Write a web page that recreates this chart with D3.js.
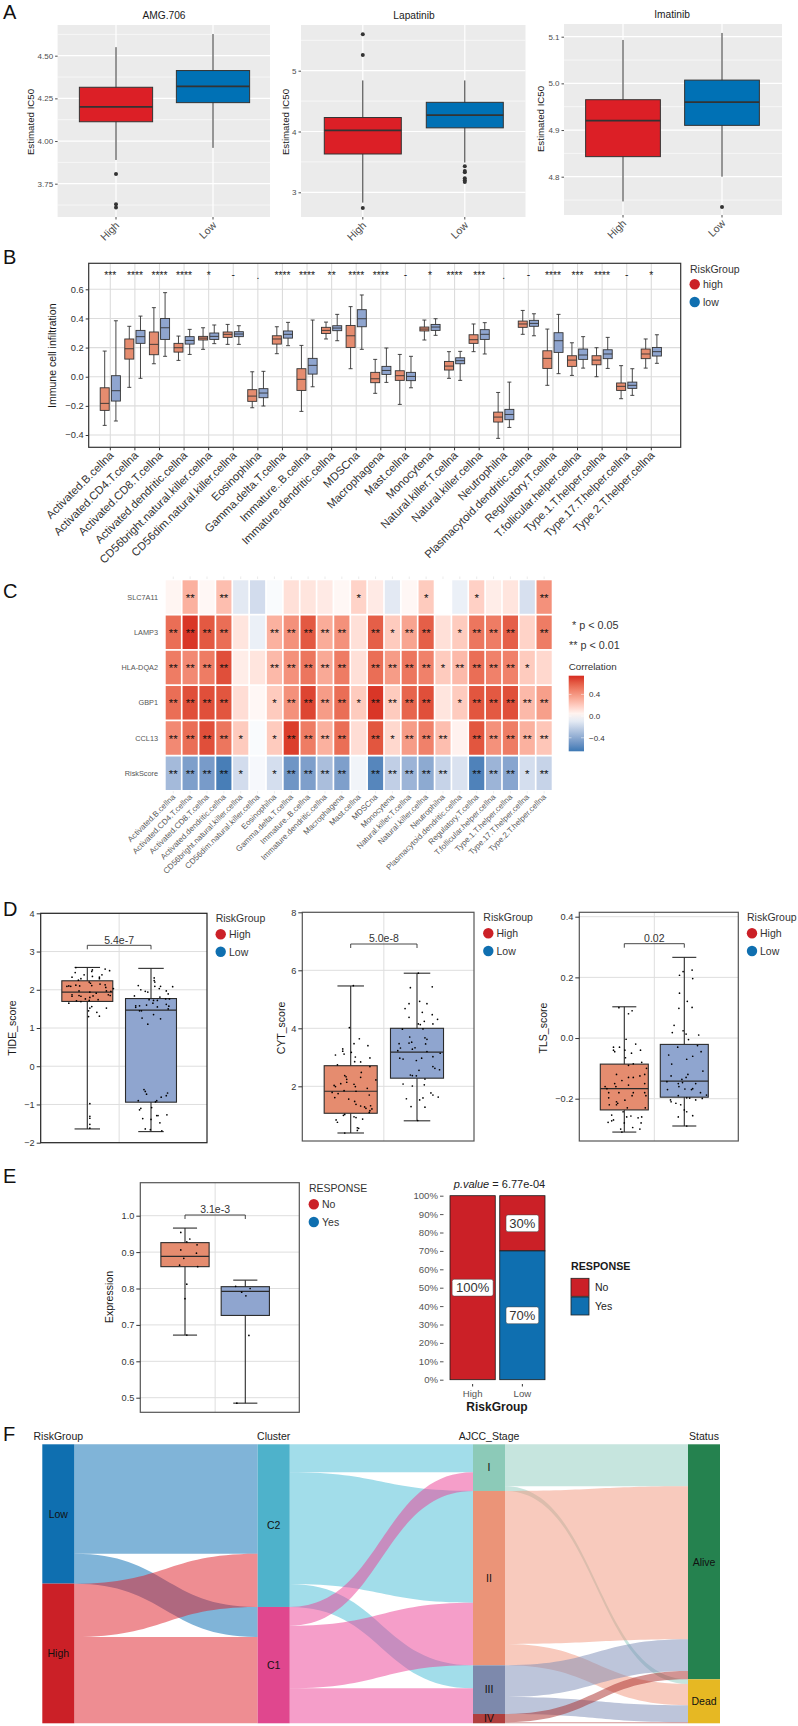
<!DOCTYPE html>
<html>
<head>
<meta charset="utf-8">
<script src="https://cdn.jsdelivr.net/npm/d3@7"></script>
<style>
  body { margin: 0; background: #fff; }
  text { font-family: "Liberation Sans", Arial, sans-serif; }
</style>
</head>
<body>
<script>
const RED = '#CB2027';
const BLUE = '#0F6FB0';
const SALMON = '#E58C6F';
const STEEL = '#8FA5CF';
const groups = ['High', 'Low'];

// panel A, box values are [whisker low, q1, median, q3, whisker high]
const amgHigh = [3.889, 4.113, 4.2, 4.315, 4.55];
const amgLow = [3.96, 4.225, 4.32, 4.413, 4.627];
const amgOutliers = [3.807, 3.63, 3.61];
const lapHigh = [2.83, 3.63, 4.02, 4.23, 4.84];
const lapLow = [3.49, 4.06, 4.27, 4.48, 4.84];
const lapHighOutliers = [5.6, 5.26, 2.74];
const lapLowOutliers = [3.43, 3.35, 3.33, 3.23, 3.2, 3.17];
const imaHigh = [4.747, 4.843, 4.92, 4.965, 5.093];
const imaLow = [4.8, 4.91, 4.96, 5.007, 5.108];
const imaLowOutliers = [4.735];

// panel B
const cells = ['Activated.B.cellna', 'Activated.CD4.T.cellna', 'Activated.CD8.T.cellna', 'Activated.dendritic.cellna',
  'CD56bright.natural.killer.cellna', 'CD56dim.natural.killer.cellna', 'Eosinophilna', 'Gamma.delta.T.cellna',
  'Immature..B.cellna', 'Immature.dendritic.cellna', 'MDSCna', 'Macrophagena', 'Mast.cellna', 'Monocytena',
  'Natural.killer.T.cellna', 'Natural.killer.cellna', 'Neutrophilna', 'Plasmacytoid.dendritic.cellna',
  'Regulatory.T.cellna', 'T.follicular.helper.cellna', 'Type.1.T.helper.cellna', 'Type.17.T.helper.cellna',
  'Type.2.T.helper.cellna'];
const cellSig = ['***', '****', '****', '****', '*', '-', '.', '****', '****', '**', '****', '****', '-', '*', '****',
  '***', '.', '-', '****', '***', '****', '-', '*'];
const cellHigh = [
  [-0.334, -0.231, -0.183, -0.076, 0.176], [-0.073, 0.121, 0.192, 0.259, 0.346], [0.089, 0.151, 0.222, 0.307, 0.474],
  [0.112, 0.169, 0.199, 0.229, 0.279], [0.188, 0.252, 0.265, 0.277, 0.336], [0.222, 0.27, 0.291, 0.307, 0.359],
  [-0.213, -0.169, -0.133, -0.089, 0.034], [0.158, 0.224, 0.259, 0.281, 0.343], [-0.238, -0.094, -0.018, 0.055, 0.215],
  [0.259, 0.297, 0.318, 0.339, 0.375], [0.055, 0.201, 0.281, 0.352, 0.481], [-0.114, -0.041, -0.014, 0.03, 0.119],
  [-0.19, -0.025, 0.007, 0.041, 0.153], [0.252, 0.314, 0.327, 0.341, 0.389], [-0.011, 0.046, 0.073, 0.105, 0.172],
  [0.172, 0.229, 0.254, 0.288, 0.362], [-0.423, -0.311, -0.277, -0.243, -0.108], [0.291, 0.339, 0.362, 0.382, 0.455],
  [-0.059, 0.057, 0.126, 0.178, 0.327], [0.009, 0.071, 0.114, 0.144, 0.233], [0, 0.082, 0.114, 0.144, 0.199],
  [-0.151, -0.094, -0.066, -0.043, 0.076], [0.059, 0.124, 0.156, 0.19, 0.259]];
const cellLow = [
  [-0.304, -0.167, -0.096, 0.007, 0.384], [-0.011, 0.229, 0.275, 0.318, 0.416], [0.14, 0.256, 0.336, 0.4, 0.577],
  [0.153, 0.224, 0.249, 0.275, 0.325], [0.227, 0.256, 0.277, 0.3, 0.355], [0.222, 0.275, 0.293, 0.309, 0.35],
  [-0.201, -0.144, -0.112, -0.082, 0.037], [0.213, 0.265, 0.291, 0.314, 0.373], [-0.069, 0.018, 0.078, 0.126, 0.389],
  [0.247, 0.316, 0.334, 0.35, 0.428], [0.188, 0.343, 0.398, 0.46, 0.561], [-0.039, 0.016, 0.043, 0.071, 0.197],
  [-0.076, -0.027, 0.002, 0.03, 0.14], [0.284, 0.318, 0.341, 0.359, 0.398], [-0.025, 0.089, 0.11, 0.13, 0.174],
  [0.156, 0.256, 0.291, 0.323, 0.371], [-0.348, -0.295, -0.259, -0.224, -0.037], [0.281, 0.346, 0.366, 0.387, 0.432],
  [0.021, 0.167, 0.247, 0.302, 0.428], [0.059, 0.119, 0.149, 0.19, 0.275], [0.057, 0.124, 0.156, 0.185, 0.27],
  [-0.128, -0.08, -0.059, -0.037, 0.055], [0.092, 0.142, 0.172, 0.201, 0.288]];

// panel C
const heatCols = ['Activated.B.cellna', 'Activated.CD4.T.cellna', 'Activated.CD8.T.cellna', 'Activated.dendritic.cellna',
  'CD56bright.natural.killer.cellna', 'CD56dim.natural.killer.cellna', 'Eosinophilna', 'Gamma.delta.T.cellna',
  'Immature..B.cellna', 'Immature.dendritic.cellna', 'Macrophagena', 'Mast.cellna', 'MDSCna', 'Monocytena',
  'Natural.killer.T.cellna', 'Natural.killer.cellna', 'Neutrophilna', 'Plasmacytoid.dendritic.cellna',
  'Regulatory.T.cellna', 'T.follicular.helper.cellna', 'Type.1.T.helper.cellna', 'Type.17.T.helper.cellna',
  'Type.2.T.helper.cellna'];
const heatRows = ['SLC7A11', 'LAMP3', 'HLA-DQA2', 'GBP1', 'CCL13', 'RiskScore'];
const slc7a11Vals = [0.04, 0.3, 0.03, 0.25, -0.1, -0.16, -0.02, 0.12, 0.1, 0.08, 0.03, 0.17, 0.08, -0.1, 0.03, 0.2, 0, -0.07, 0.18, 0.07, 0.1, -0.14, 0.42];
const lamp3Vals = [0.55, 0.72, 0.62, 0.55, 0.1, -0.07, 0.3, 0.42, 0.62, 0.32, 0.42, 0.12, 0.6, 0.2, 0.35, 0.6, 0.12, 0.2, 0.52, 0.5, 0.6, 0.17, 0.5];
const hlaVals = [0.5, 0.45, 0.5, 0.65, 0.07, 0.1, 0.27, 0.42, 0.52, 0.33, 0.5, 0.12, 0.55, 0.38, 0.52, 0.48, 0.2, 0.27, 0.55, 0.48, 0.48, 0.2, 0.15];
const gbp1Vals = [0.55, 0.65, 0.65, 0.63, 0.13, 0.03, 0.2, 0.42, 0.68, 0.38, 0.55, 0.2, 0.72, 0.2, 0.58, 0.65, 0.1, 0.2, 0.63, 0.62, 0.65, 0.27, 0.37];
const ccl13Vals = [0.45, 0.55, 0.65, 0.52, 0.2, -0.02, 0.2, 0.7, 0.5, 0.3, 0.55, 0.13, 0.63, 0.15, 0.38, 0.48, 0.25, 0.05, 0.63, 0.42, 0.5, 0.3, 0.22];
const riskVals = [-0.32, -0.45, -0.47, -0.62, -0.16, -0.03, -0.15, -0.5, -0.45, -0.3, -0.45, -0.05, -0.58, -0.22, -0.35, -0.4, -0.2, -0.13, -0.6, -0.35, -0.42, -0.15, -0.2];
const slc7a11Sig = ['', '**', '', '**', '', '', '', '', '', '', '', '*', '', '', '', '*', '', '', '*', '', '', '', '**'];
const lamp3Sig = ['**', '**', '**', '**', '', '', '**', '**', '**', '**', '**', '', '**', '*', '**', '**', '', '*', '**', '**', '**', '', '**'];
const hlaSig = ['**', '**', '**', '**', '', '', '**', '**', '**', '**', '**', '', '**', '**', '**', '**', '*', '**', '**', '**', '**', '*', ''];
const gbp1Sig = ['**', '**', '**', '**', '', '', '*', '**', '**', '**', '**', '*', '**', '**', '**', '**', '', '*', '**', '**', '**', '**', '**'];
const ccl13Sig = ['**', '**', '**', '**', '*', '', '*', '**', '**', '**', '**', '', '**', '*', '**', '**', '**', '', '**', '**', '**', '**', '**'];
const riskSig = ['**', '**', '**', '**', '*', '', '*', '**', '**', '**', '**', '', '**', '**', '**', '**', '**', '', '**', '**', '**', '*', '**'];
const heatVals = [slc7a11Vals, lamp3Vals, hlaVals, gbp1Vals, ccl13Vals, riskVals];
const heatSig = [slc7a11Sig, lamp3Sig, hlaSig, gbp1Sig, ccl13Sig, riskSig];

// panel D, dots are [jitter, value]
const tideHigh = [-1.64, 1.695, 1.94, 2.235, 2.584];
const tideLow = [-1.71, -0.94, 1.47, 1.77, 2.56];
const tideHighDots = [[-.18,2.58],[.08,2.52],[.07,2.48],[.28,2.54],[.35,2.5],[.23,2.39],[-.05,2.39],[-.19,2.45],[-.24,2.33],[.08,2.35],[.19,2.33],[.19,2.29],[-.1,2.29],[-.14,2.25],[.03,2.2],[.05,2.17],[.07,2.11],[.2,2.15],[.28,2.13],[.29,2.06],[-.12,2.1],[-.18,2.12],[-.32,2.09],[-.29,2.1],[-.26,2.09],[.41,2.03],[.3,1.97],[.37,1.96],[-.13,1.97],[.04,1.94],[.14,1.91],[-.24,1.87],[-.24,1.83],[-.13,1.85],[-.1,1.83],[.04,1.8],[.09,1.84],[.33,1.87],[.36,1.85],[-.03,1.76],[-.17,1.71],[-.1,1.69],[.03,1.72],[.17,1.74],[-.29,1.65],[.07,1.56],[.04,1.52],[.3,1.52],[.02,1.45],[.15,1.41],[.02,1.3],[.19,1.31],[.04,-.98],[.04,-1.31],[.04,-1.36],[.04,-1.52],[.04,-1.62]];
const tideLowDots = [[.05,2.31],[.05,2.24],[.06,2.2],[-.2,2.11],[.06,2.09],[.15,2.09],[.34,2.08],[.13,2.03],[-.16,2],[.24,1.97],[-.09,1.96],[-.05,1.94],[.27,1.89],[-.26,1.84],[.14,1.81],[-.03,1.74],[.04,1.72],[.1,1.72],[.23,1.76],[.29,1.76],[.03,1.65],[.24,1.62],[-.24,1.58],[-.18,1.58],[-.07,1.6],[.1,1.55],[.28,1.57],[-.24,1.54],[.27,1.5],[-.18,1.45],[-.15,1.45],[.04,1.35],[-.14,1.26],[.15,1.24],[-.05,1.1],[-.11,-.61],[-.09,-.66],[-.07,-.73],[.26,-.7],[.24,-.77],[.16,-.81],[-.2,-.9],[.09,-.9],[.07,-.93],[-.16,-1.1],[.01,-1.08],[-.18,-1.14],[.09,-1.29],[.11,-1.29],[.25,-1.27],[-.13,-1.37],[0,-1.39],[.14,-1.48],[-.09,-1.64],[-.01,-1.66],[.17,-1.69]];
const cytHigh = [0.39, 1.07, 1.83, 2.71, 5.46];
const cytLow = [0.81, 2.28, 3.18, 4.0, 5.9];
const cytHighDots = [[.04,5.47],[-.02,4.02],[.13,3.64],[.05,3.47],[.26,3.4],[-.12,3.29],[-.12,3.21],[-.23,3.08],[.01,3.17],[-.1,3.11],[.07,3.01],[.29,2.98],[.06,2.85],[.15,2.84],[-.2,2.74],[.29,2.68],[.16,2.48],[.15,2.31],[-.09,2.37],[-.07,2.33],[-.06,2.24],[-.06,2.14],[-.15,2.09],[.38,2.22],[-.25,2.03],[-.23,1.99],[.05,2.07],[.07,1.99],[.25,1.93],[-.28,1.79],[-.19,1.75],[-.1,1.85],[.08,1.83],[.28,1.7],[-.24,1.61],[-.03,1.56],[.06,1.48],[.08,1.38],[.15,1.32],[.21,1.29],[.3,1.33],[.32,1.22],[.23,1.24],[.28,1.1],[.29,1.16],[-.11,1],[-.09,1.03],[.05,.95],[.08,.92],[.18,.87],[-.22,.84],[-.2,.76],[.1,.57],[.12,.55],[.1,.48],[-.09,.39]];
const cytLowDots = [[.02,5.9],[-.1,5.4],[.23,5.43],[.04,4.93],[-.12,4.85],[.15,4.85],[-.18,4.68],[.08,4.55],[.23,4.47],[-.12,4.38],[.31,4.31],[.11,4.24],[.02,4.15],[.05,4.13],[.24,4.15],[-.22,3.97],[.09,3.98],[-.11,3.7],[.12,3.67],[.15,3.62],[-.27,3.47],[-.12,3.49],[-.08,3.52],[.13,3.46],[-.25,3.32],[-.29,3.23],[-.03,3.33],[-.07,3.28],[.15,3.2],[.35,3.14],[.24,3.02],[-.26,2.97],[-.21,2.94],[.07,2.97],[-.01,2.89],[.24,2.68],[.27,2.62],[.34,2.57],[.03,2.55],[-.1,2.39],[-.07,2.37],[-.01,2.36],[-.21,2.08],[-.07,2.01],[.11,2.05],[.12,2.25],[.21,1.77],[.24,1.7],[.32,1.63],[.09,1.6],[.04,1.53],[-.16,1.57],[-.09,1.3],[.12,1.28],[.01,.82]];
const tlsHigh = [-0.31, -0.237, -0.167, -0.086, 0.103];
const tlsLow = [-0.29, -0.195, -0.142, -0.021, 0.266];
const tlsHighDots = [[-.09,.1],[.07,.08],[.13,.09],[.03,-.004],[.19,-.02],[-.08,-.03],[-.18,-.03],[-.18,-.04],[-.16,-.045],[.27,-.04],[.01,-.04],[.12,-.05],[.02,-.065],[.29,-.08],[.07,-.09],[.15,-.085],[.37,-.1],[-.13,-.12],[.26,-.125],[.34,-.12],[.07,-.13],[.15,-.13],[-.04,-.14],[-.32,-.16],[-.16,-.15],[-.14,-.16],[.07,-.155],[.34,-.15],[-.29,-.167],[-.26,-.18],[-.09,-.18],[.15,-.18],[.13,-.19],[.34,-.18],[.36,-.19],[-.26,-.197],[-.13,-.21],[.01,-.205],[-.13,-.22],[-.11,-.215],[-.25,-.22],[.05,-.23],[.35,-.23],[-.02,-.243],[-.21,-.254],[.04,-.26],[.11,-.257],[.23,-.263],[.29,-.26],[-.18,-.27],[-.21,-.273],[-.27,-.278],[.28,-.28],[0,-.28],[.14,-.295],[.26,-.3],[-.06,-.3],[-.04,-.31]];
const tlsLowDots = [[.13,.224],[-.02,.219],[-.08,.207],[.14,.196],[-.08,.148],[.05,.121],[-.09,.098],[.13,.101],[-.17,.042],[-.2,.018],[-.02,.024],[.03,.013],[.24,.01],[.07,-.005],[.22,-.025],[-.11,-.03],[.28,-.045],[-.26,-.056],[.14,-.06],[.04,-.07],[-.21,-.086],[.31,-.109],[.06,-.12],[-.22,-.125],[.03,-.13],[-.04,-.136],[-.29,-.144],[-.1,-.15],[-.03,-.147],[.19,-.15],[-.09,-.16],[-.28,-.17],[.01,-.168],[.14,-.167],[.12,-.17],[.27,-.18],[.37,-.188],[-.1,-.19],[.04,-.197],[.09,-.198],[.19,-.204],[-.23,-.204],[.3,-.199],[-.22,-.21],[-.14,-.215],[-.06,-.22],[0,-.237],[.04,-.243],[-.1,-.26],[.14,-.256],[.04,-.29]];

// panel E
const exprNo = [0.672, 0.86, 0.888, 0.926, 0.966];
const exprYes = [0.485, 0.726, 0.792, 0.805, 0.823];
const exprNoDots = [[-.07,.954],[.08,.936],[.03,.928],[-.07,.906],[.2,.92],[.19,.897],[-.02,.883],[-.09,.864],[.21,.86],[.03,.812],[0,.772],[.03,.672]];
const exprYesDots = [[-.16,.806],[.08,.8],[-.06,.79],[.01,.78],[.06,.671],[-.14,.485]];
const responseNo = [100, 30];
const responseYes = [0, 70];
const percentTicks = d3.range(0, 101, 10);

// panel F, sankey flows are [from, to, size]
const riskNodes = ['Low', 'High'];
const clusterNodes = ['C2', 'C1'];
const stageNodes = ['I', 'II', 'III', 'IV'];
const statusNodes = ['Alive', 'Dead'];
const riskToCluster = [['Low', 'C2', 328], ['Low', 'C1', 90], ['High', 'C2', 160], ['High', 'C1', 259]];
const clusterToStage = [['C2', 'I', 84], ['C2', 'II', 335], ['C2', 'III', 69], ['C1', 'I', 56], ['C1', 'II', 188], ['C1', 'III', 77], ['C1', 'IV', 28]];
const stageToStatus = [['I', 'Alive', 126], ['I', 'Dead', 14], ['II', 'Alive', 459], ['II', 'Dead', 64], ['III', 'Alive', 95], ['III', 'Dead', 51], ['IV', 'Alive', 25], ['IV', 'Dead', 3]];
const nodeColors = { Low: BLUE, High: RED, C2: '#4EB2CB', C1: '#E0478E', I: '#8CCAB8', II: '#EB9478', III: '#7D89AC', IV: '#B03F3E', Alive: '#25824F', Dead: '#E6B823' };
// ribbons are a little more saturated than the strata once they are at half opacity
const linkColors = { Low: '#0169B1', High: '#DD1B25', C2: '#45BBD5', C1: '#EB3D93', I: '#8DCBBD', II: '#F1957B', III: '#7B8BB5', IV: '#A82A28' };

const svg = d3.select('body').append('svg')
  .attr('width', 798)
  .attr('height', 1726)
  .style('display', 'block');

const label = (x, y, txt, { size = 10.5, anchor = 'start', color = '#1a1a1a', rotate = 0, weight = 'normal' } = {}) =>
  svg.append('text')
    .attr('transform', `translate(${x},${y}) rotate(${rotate})`)
    .attr('text-anchor', anchor)
    .attr('font-size', size)
    .attr('font-weight', weight)
    .attr('fill', color)
    .text(txt);

const yAxis = (x0, y, ticks, fmt, { size = 9, color = '#333', tick = 3 } = {}) => {
  const g = svg.append('g')
    .attr('transform', `translate(${x0},0)`)
    .call(d3.axisLeft(y).tickValues(ticks).tickFormat(fmt).tickSize(tick).tickPadding(2));
  g.select('.domain').remove();
  g.selectAll('text').attr('font-family', '"Liberation Sans"').attr('font-size', size).attr('fill', color);
  g.selectAll('line').attr('stroke', color);
};

const box = (cx, w, capW, y, [lo, q1, med, q3, hi], fill, { stroke = '#222', sw = 1, medW = 1.2 } = {}) => {
  const line = (x1, x2, y1, y2, width = sw) => svg.append('line')
    .attr('x1', x1).attr('x2', x2).attr('y1', y1).attr('y2', y2)
    .attr('stroke', stroke).attr('stroke-width', width);
  line(cx, cx, y(lo), y(hi));
  if (capW) {
    line(cx - capW / 2, cx + capW / 2, y(lo), y(lo));
    line(cx - capW / 2, cx + capW / 2, y(hi), y(hi));
  }
  svg.append('rect')
    .attr('x', cx - w / 2).attr('width', w)
    .attr('y', y(q3)).attr('height', y(q1) - y(q3))
    .attr('fill', fill)
    .attr('stroke', stroke).attr('stroke-width', sw);
  line(cx - w / 2, cx + w / 2, y(med), y(med), medW);
};

// ---- panel A ----
const drugPanel = ({ title, titleX, left, right, top, bottom, y, ticks, minor, fmt, high, low, centers, titleY, highOut = [], lowOut = [], ylabX, ylabY }) => {
  svg.append('rect').attr('x', left).attr('y', top).attr('width', right - left).attr('height', bottom - top).attr('fill', '#EBEBEB');
  const x = d3.scalePoint().domain(groups).range(centers);
  minor.forEach(v => svg.append('line').attr('x1', left).attr('x2', right).attr('y1', y(v)).attr('y2', y(v)).attr('stroke', '#fff').attr('stroke-width', 0.6));
  ticks.forEach(v => svg.append('line').attr('x1', left).attr('x2', right).attr('y1', y(v)).attr('y2', y(v)).attr('stroke', '#fff').attr('stroke-width', 1.2));
  groups.forEach(g => svg.append('line').attr('x1', x(g)).attr('x2', x(g)).attr('y1', top).attr('y2', bottom).attr('stroke', '#fff').attr('stroke-width', 1.2));
  const w = (centers[1] - centers[0]) * 0.755;
  box(x('High'), w, 0, y, high, '#DC1F26', { stroke: '#333', sw: 1, medW: 1.7 });
  box(x('Low'), w, 0, y, low, '#0071B5', { stroke: '#333', sw: 1, medW: 1.7 });
  highOut.forEach(v => svg.append('circle').attr('cx', x('High')).attr('cy', y(v)).attr('r', 2).attr('fill', '#333'));
  lowOut.forEach(v => svg.append('circle').attr('cx', x('Low')).attr('cy', y(v)).attr('r', 2).attr('fill', '#333'));
  yAxis(left, y, ticks, fmt, { size: 8, color: '#4d4d4d', tick: 2.5 });
  groups.forEach(g => {
    svg.append('line').attr('x1', x(g)).attr('x2', x(g)).attr('y1', bottom).attr('y2', bottom + 2.5).attr('stroke', '#4d4d4d');
    label(x(g) + 4, bottom + 9, g, { size: 10.5, anchor: 'end', color: '#4d4d4d', rotate: -45 });
  });
  label(titleX, titleY, title, { size: 10.2, anchor: 'middle' });
  label(ylabX, ylabY, 'Estimated IC50', { size: 9.7, anchor: 'middle', rotate: -90 });
};

drugPanel({ title: 'AMG.706', titleX: 164, titleY: 18.5, left: 57.6, right: 270, top: 25, bottom: 217, centers: [116, 213],
  y: d3.scaleLinear().domain([3.75, 4.5]).range([183.7, 55.7]), ticks: [3.75, 4, 4.25, 4.5], minor: [3.625, 3.875, 4.125, 4.375, 4.625],
  fmt: d3.format('.2f'), high: amgHigh, low: amgLow, highOut: amgOutliers, ylabX: 33.5, ylabY: 122 });
drugPanel({ title: 'Lapatinib', titleX: 414, titleY: 18.5, left: 301, right: 525.5, top: 25, bottom: 217, centers: [362.8, 464.8],
  y: d3.scaleLinear().domain([3, 5]).range([192.3, 70.7]), ticks: [3, 4, 5], minor: [3.5, 4.5, 5.5],
  fmt: d3.format('d'), high: lapHigh, low: lapLow, highOut: lapHighOutliers, lowOut: lapLowOutliers, ylabX: 288.5, ylabY: 122 });
drugPanel({ title: 'Imatinib', titleX: 672, titleY: 17.5, left: 564, right: 782, top: 24, bottom: 215, centers: [623, 722],
  y: d3.scaleLinear().domain([4.8, 5.1]).range([176.7, 36.7]), ticks: [4.8, 4.9, 5, 5.1], minor: [4.75, 4.85, 4.95, 5.05],
  fmt: d3.format('.1f'), high: imaHigh, low: imaLow, lowOut: imaLowOutliers, ylabX: 543.5, ylabY: 119 });

// ---- panel B ----
const cellY = d3.scaleLinear().domain([-0.4, 0.6]).range([435, 289.3]);
const cellX = d3.scalePoint().domain(cells).range([110.3, 651.3]);
const cellTicks = [-0.4, -0.2, 0, 0.2, 0.4, 0.6];
cellTicks.forEach(v => svg.append('line').attr('x1', 88.7).attr('x2', 680.7).attr('y1', cellY(v)).attr('y2', cellY(v)).attr('stroke', '#dcdcdc').attr('stroke-width', 1.1));
cells.forEach(c => svg.append('line').attr('x1', cellX(c)).attr('x2', cellX(c)).attr('y1', 263.3).attr('y2', 447.3).attr('stroke', '#dcdcdc').attr('stroke-width', 1.1));
cells.forEach((c, i) => {
  box(cellX(c) - 5.6, 9, 4, cellY, cellHigh[i], SALMON, { stroke: '#333', sw: 0.9, medW: 0.9 });
  box(cellX(c) + 5.6, 9, 4, cellY, cellLow[i], STEEL, { stroke: '#333', sw: 0.9, medW: 0.9 });
  const sig = cellSig[i];
  const base = sig === '-' ? 278 : sig === '.' ? 279 : 278.7;
  label(cellX(c), base, sig, { size: 10.3, anchor: 'middle', color: '#222' });
  svg.append('line').attr('x1', cellX(c)).attr('x2', cellX(c)).attr('y1', 447.3).attr('y2', 450.3).attr('stroke', '#333');
  label(cellX(c) + 4, 456, c, { size: 11.3, anchor: 'end', color: '#333', rotate: -45 });
});
svg.append('rect').attr('x', 88.7).attr('y', 263.3).attr('width', 592).attr('height', 184).attr('fill', 'none').attr('stroke', '#333').attr('stroke-width', 1.2);
yAxis(88.7, cellY, cellTicks, d => d3.format('.1f')(d).replace('-', '\u2212'), { size: 9.3, color: '#333' });
label(56, 355.7, 'Immune cell infiltration', { anchor: 'middle', rotate: -90 });

const riskLegend = (x, titleY, circleX, textX, y1, y2, names, title = 'RiskGroup') => {
  label(x, titleY, title, { color: '#333' });
  [y1, y2].forEach((y, i) => {
    svg.append('circle').attr('cx', circleX).attr('cy', y).attr('r', 5.2).attr('fill', i ? BLUE : RED);
    label(textX, y + 4, names[i], { color: '#333' });
  });
};
riskLegend(690, 272.5, 694.7, 703, 284.3, 302, ['high', 'low']);

// ---- panel C ----
const heatX = d3.scaleBand().domain(heatCols).range([165.7, 551.7]).paddingInner(0.1);
const heatY = d3.scaleBand().domain(heatRows).range([580.3, 790]).paddingInner(0.05);
const heatColor = d3.scaleLinear().domain([-0.65, 0, 0.745]).range(['#3C78B4', '#ffffff', '#D62B20']).interpolate(d3.interpolateLab);
heatRows.forEach((row, r) => {
  heatCols.forEach((col, c) => {
    svg.append('rect')
      .attr('x', heatX(col)).attr('y', heatY(row))
      .attr('width', heatX.bandwidth()).attr('height', heatY.bandwidth())
      .attr('fill', heatColor(heatVals[r][c]));
    if (heatSig[r][c]) {
      label(heatX(col) + heatX.bandwidth() / 2, heatY(row) + heatY.bandwidth() / 2 + 4.5, heatSig[r][c], { size: 11.5, anchor: 'middle', color: '#111' });
    }
  });
  label(158, heatY(row) + heatY.bandwidth() / 2 + 2.5, row, { size: 7.3, anchor: 'end', color: '#555' });
});
heatCols.forEach(col => {
  const cx = heatX(col) + heatX.bandwidth() / 2;
  svg.append('line').attr('x1', cx).attr('x2', cx).attr('y1', 576.5).attr('y2', 579).attr('stroke', '#ddd').attr('stroke-width', 0.6);
  svg.append('line').attr('x1', cx).attr('x2', cx).attr('y1', 791).attr('y2', 793.5).attr('stroke', '#ddd').attr('stroke-width', 0.6);
  label(cx + 2.5, 797.5, col, { size: 8, anchor: 'end', color: '#5a5a5a', rotate: -45 });
});
label(572, 628.5, '* p < 0.05', { size: 10.8, color: '#333' });
label(569, 649, '** p < 0.01', { size: 10.8, color: '#333' });
label(568.7, 669.5, 'Correlation', { size: 9.8, color: '#333' });
const barScale = d3.scaleLinear().domain([-0.65, 0.745]).range([751.3, 675.7]);
const grad = svg.append('defs').append('linearGradient').attr('id', 'corr').attr('x1', 0).attr('x2', 0).attr('y1', 1).attr('y2', 0);
d3.range(0, 1.01, 0.1).forEach(t => grad.append('stop').attr('offset', t).attr('stop-color', heatColor(-0.65 + t * 1.395)));
svg.append('rect').attr('x', 568.7).attr('y', 675.7).attr('width', 15.3).attr('height', 75.6).attr('fill', 'url(#corr)');
[0.4, 0, -0.4].forEach(v => {
  label(589, barScale(v) + 3, d3.format('.1f')(v).replace('-', '\u2212'), { size: 8, color: '#333' });
  svg.append('line').attr('x1', 568.7).attr('x2', 571.5).attr('y1', barScale(v)).attr('y2', barScale(v)).attr('stroke', '#fff').attr('stroke-width', 0.5);
  svg.append('line').attr('x1', 581).attr('x2', 584).attr('y1', barScale(v)).attr('y2', barScale(v)).attr('stroke', '#fff').attr('stroke-width', 0.5);
});

// ---- panels D and E box plots ----
const scorePanel = ({ left, right, top, bottom, y, ticks, fmt, centers, high, low, highDots, lowDots, pval, bracket, title, titleX, titleY, frame = '#222', boxCap = 0.4 }) => {
  const x = d3.scaleLinear().domain([1, 2]).range(centers);
  const step = centers[1] - centers[0];
  ticks.forEach(v => svg.append('line').attr('x1', left).attr('x2', right).attr('y1', y(v)).attr('y2', y(v)).attr('stroke', '#dedede').attr('stroke-width', 1));
  svg.append('line').attr('x1', x(1.5)).attr('x2', x(1.5)).attr('y1', top).attr('y2', bottom).attr('stroke', '#dedede').attr('stroke-width', 1);
  box(x(1), step * 0.8, step * boxCap, y, high, SALMON, { stroke: '#2b2b2b', sw: 1.1 });
  box(x(2), step * 0.8, step * boxCap, y, low, STEEL, { stroke: '#2b2b2b', sw: 1.1 });
  [[1, highDots], [2, lowDots]].forEach(([pos, dots]) => {
    svg.append('g').selectAll('circle').data(dots).join('circle')
      .attr('cx', d => x(pos + d[0]))
      .attr('cy', d => y(d[1]))
      .attr('r', 0.85)
      .attr('fill', '#000');
  });
  svg.append('path')
    .attr('d', `M${x(1)},${bracket + 4}V${bracket}H${x(2)}V${bracket + 4}`)
    .attr('fill', 'none').attr('stroke', '#333').attr('stroke-width', 0.9);
  label(x(1.5), bracket - 1.8, pval, { anchor: 'middle', color: '#333' });
  svg.append('rect').attr('x', left).attr('y', top).attr('width', right - left).attr('height', bottom - top)
    .attr('fill', 'none').attr('stroke', frame).attr('stroke-width', 1.2);
  yAxis(left, y, ticks, fmt, { size: 9.2, color: '#333', tick: 4 });
  label(titleX, titleY, title, { anchor: 'middle', rotate: -90 });
};

const minusFmt = f => d => d3.format(f)(d).replace('-', '\u2212');
scorePanel({ left: 40.7, right: 207, top: 913.3, bottom: 1142.7, centers: [87.3, 151], y: d3.scaleLinear().domain([-2, 4]).range([1142.7, 913.3]),
  ticks: [-2, -1, 0, 1, 2, 3, 4], fmt: minusFmt('d'), high: tideHigh, low: tideLow, highDots: tideHighDots, lowDots: tideLowDots,
  pval: '5.4e-7', bracket: 945.3, title: 'TIDE_score', titleX: 16, titleY: 1028 });
scorePanel({ left: 302.3, right: 474, top: 912.3, bottom: 1141, centers: [350.7, 417], y: d3.scaleLinear().domain([2, 8]).range([1086.3, 912.3]),
  ticks: [2, 4, 6, 8], fmt: d3.format('d'), high: cytHigh, low: cytLow, highDots: cytHighDots, lowDots: cytLowDots,
  pval: '5.0e-8', bracket: 944, title: 'CYT_score', titleX: 285, titleY: 1028, frame: '#555' });
scorePanel({ left: 579.3, right: 738.3, top: 912.3, bottom: 1141, centers: [624.3, 684.3], y: d3.scaleLinear().domain([-0.2, 0.4]).range([1098.7, 916.7]),
  ticks: [-0.2, 0, 0.2, 0.4], fmt: minusFmt('.1f'), high: tlsHigh, low: tlsLow, highDots: tlsHighDots, lowDots: tlsLowDots,
  pval: '0.02', bracket: 943.7, title: 'TLS_score', titleX: 547, titleY: 1028, frame: '#555' });
riskLegend(215.7, 922, 220.7, 229, 934.3, 951.7, groups);
riskLegend(483.3, 921, 488.3, 496.5, 933.3, 951, groups);
riskLegend(747, 921, 752, 760, 933.3, 951, groups);

scorePanel({ left: 140.3, right: 299.3, top: 1182.7, bottom: 1412.3, centers: [185, 245.3], y: d3.scaleLinear().domain([0.5, 1]).range([1397.7, 1215.7]),
  ticks: [0.5, 0.6, 0.7, 0.8, 0.9, 1], fmt: d3.format('.1f'), high: exprNo, low: exprYes, highDots: exprNoDots, lowDots: exprYesDots,
  pval: '3.1e-3', bracket: 1215, title: 'Expression', titleX: 113, titleY: 1297, frame: '#555' });
riskLegend(309, 1192, 313.8, 322, 1204.3, 1222, ['No', 'Yes'], 'RESPONSE');

// ---- panel E stacked bar ----
const pctY = d3.scaleLinear().domain([0, 100]).range([1379.7, 1195.7]);
const pctX = d3.scaleBand().domain(groups).range([450, 545]).paddingInner(0.09);
groups.forEach((g, i) => {
  svg.append('rect').attr('x', pctX(g)).attr('width', pctX.bandwidth())
    .attr('y', pctY(responseNo[i] + responseYes[i])).attr('height', pctY(0) - pctY(responseNo[i]))
    .attr('fill', RED).attr('stroke', '#1a1a1a').attr('stroke-width', 0.8);
  if (responseYes[i]) {
    svg.append('rect').attr('x', pctX(g)).attr('width', pctX.bandwidth())
      .attr('y', pctY(responseYes[i])).attr('height', pctY(0) - pctY(responseYes[i]))
      .attr('fill', BLUE).attr('stroke', '#1a1a1a').attr('stroke-width', 0.8);
  }
});
const pctLabel = (g, value, mid) => {
  const cx = pctX(g) + pctX.bandwidth() / 2;
  const w = value === 100 ? 41 : 32.7;
  svg.append('rect').attr('x', cx - w / 2).attr('y', pctY(mid) - 8.4).attr('width', w).attr('height', 16.8)
    .attr('rx', 2).attr('fill', '#fff').attr('stroke', '#444').attr('stroke-width', 0.5);
  label(cx, pctY(mid) + 4.6, value + '%', { size: 13, anchor: 'middle', color: '#333' });
};
pctLabel('High', responseNo[0], 50);
pctLabel('Low', responseNo[1], 85);
pctLabel('Low', responseYes[1], 35);
yAxis(443.5, pctY, percentTicks, d => d + '%', { size: 9.6, color: '#555', tick: 3.5 });
groups.forEach(g => {
  const cx = pctX(g) + pctX.bandwidth() / 2;
  svg.append('line').attr('x1', cx).attr('x2', cx).attr('y1', 1384).attr('y2', 1386.5).attr('stroke', '#333');
  label(cx, 1396.5, g, { size: 9.6, anchor: 'middle', color: '#555' });
});
label(497, 1411, 'RiskGroup', { size: 12, anchor: 'middle', weight: 'bold' });
const pLabel = svg.append('text').attr('x', 499.5).attr('y', 1188).attr('text-anchor', 'middle').attr('font-size', 11).attr('fill', '#222');
pLabel.append('tspan').attr('font-style', 'italic').text('p.value');
pLabel.append('tspan').text(' = 6.77e-04');
label(571, 1269.5, 'RESPONSE', { size: 10.7, weight: 'bold' });
svg.append('rect').attr('x', 571).attr('y', 1278.3).attr('width', 18).attr('height', 18).attr('fill', RED).attr('stroke', '#222').attr('stroke-width', 0.8);
svg.append('rect').attr('x', 571).attr('y', 1297).attr('width', 18).attr('height', 18).attr('fill', BLUE).attr('stroke', '#222').attr('stroke-width', 0.8);
label(595, 1291, 'No', { color: '#222' });
label(595, 1309.5, 'Yes', { color: '#222' });

// ---- panel F sankey ----
const sankeyY = d3.scaleLinear().domain([0, d3.sum(riskToCluster, d => d[2])]).range([1444.3, 1723.3]);
const columns = [
  { nodes: riskNodes, x0: 42.3, title: 'RiskGroup' },
  { nodes: clusterNodes, x0: 257.7, title: 'Cluster' },
  { nodes: stageNodes, x0: 473, title: 'AJCC_Stage' },
  { nodes: statusNodes, x0: 688, title: 'Status' },
];
const NODE_W = 32;
const allFlows = [riskToCluster, clusterToStage, stageToStatus];

// node sizes and tops in flow units, taken from the flow tables
const nodeTops = {};
const nodeSizes = {};
allFlows.forEach(flows => {
  flows.forEach(([a, b, n]) => {
    if (flows === riskToCluster) nodeSizes[a] = (nodeSizes[a] || 0) + n;
    nodeSizes[b] = (nodeSizes[b] || 0) + n;
  });
});
columns.forEach(col => {
  let acc = 0;
  col.nodes.forEach(n => { nodeTops[n] = acc; acc += nodeSizes[n]; });
});

allFlows.forEach((flows, i) => {
  const xa = columns[i].x0 + NODE_W;
  const xb = columns[i + 1].x0;
  const mid = (xa + xb) / 2;
  const outUsed = {};
  const inUsed = {};
  flows.forEach(([a, b, n]) => {
    const a0 = nodeTops[a] + (outUsed[a] || 0);
    const b0 = nodeTops[b] + (inUsed[b] || 0);
    outUsed[a] = (outUsed[a] || 0) + n;
    inUsed[b] = (inUsed[b] || 0) + n;
    const p = d3.path();
    p.moveTo(xa, sankeyY(a0));
    p.bezierCurveTo(mid, sankeyY(a0), mid, sankeyY(b0), xb, sankeyY(b0));
    p.lineTo(xb, sankeyY(b0 + n));
    p.bezierCurveTo(mid, sankeyY(b0 + n), mid, sankeyY(a0 + n), xa, sankeyY(a0 + n));
    p.closePath();
    svg.append('path').attr('d', p.toString()).attr('fill', linkColors[a]).attr('fill-opacity', 0.5);
  });
});
columns.forEach(col => {
  label(col.x0 + NODE_W / 2, 1440, col.title, { anchor: 'middle', color: '#222' });
  col.nodes.forEach(n => {
    const y0 = sankeyY(nodeTops[n]);
    const y1 = sankeyY(nodeTops[n] + nodeSizes[n]);
    svg.append('rect').attr('x', col.x0).attr('y', y0).attr('width', NODE_W).attr('height', y1 - y0).attr('fill', nodeColors[n]);
    label(col.x0 + NODE_W / 2, (y0 + y1) / 2 + 3.7, n, { anchor: 'middle', color: '#111' });
  });
});

// panel letters
[['A', 3, 19], ['B', 3, 264], ['C', 3, 598], ['D', 3, 916], ['E', 3, 1183], ['F', 3, 1441]].forEach(([t, x, y]) => {
  label(x, y, t, { size: 20, color: '#111' });
});
</script>
</body>
</html>
